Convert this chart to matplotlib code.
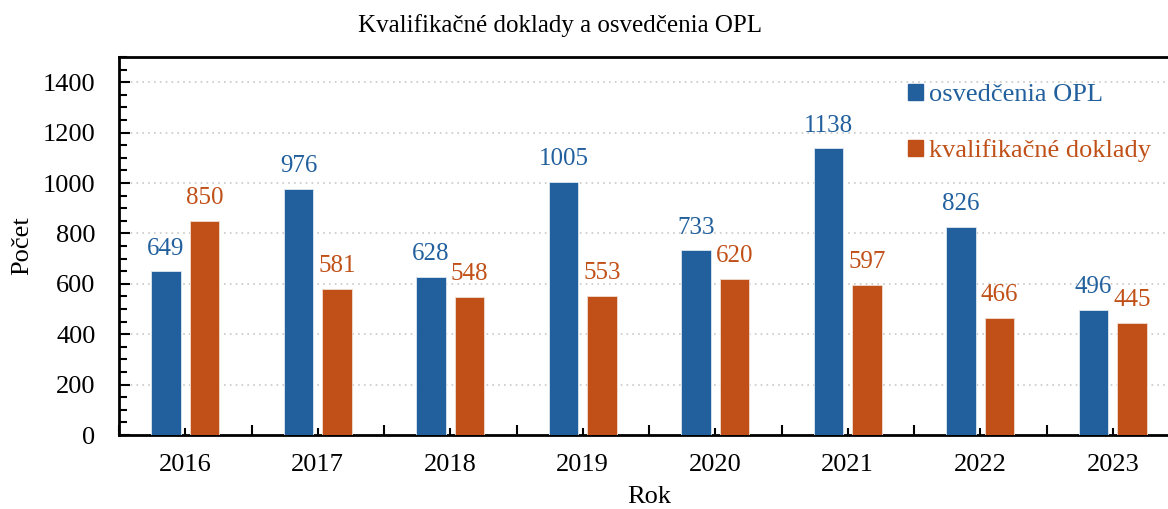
import numpy as np
import matplotlib.pyplot as plt
from matplotlib.patches import Patch
from matplotlib.ticker import MultipleLocator, FixedLocator

# Data
years = ["2016", "2017", "2018", "2019", "2020", "2021", "2022", "2023"]
osvedcenia = [649, 976, 628, 1005, 733, 1138, 826, 496]
kvalifikacne = [850, 581, 548, 553, 620, 597, 466, 445]

blue = "#21609d"
orange = "#c05018"

plt.rcParams['font.family'] = ['Liberation Serif', 'DejaVu Serif']

fig = plt.figure(figsize=(11.68, 5.09), dpi=100)
# axes right edge runs a bit past the image, like the reference
ax = fig.add_axes([119 / 1168, 1 - 435 / 509, 1060 / 1168, 378 / 509])

x = np.arange(len(years))
w = 0.22
off = 0.145
b1 = ax.bar(x - off, osvedcenia, w, color=blue, edgecolor="#dde6f0", linewidth=0.6, zorder=3)
b2 = ax.bar(x + off, kvalifikacne, w, color=orange, edgecolor="#f2ddd0", linewidth=0.6, zorder=3)

# value labels above the bars
for xi, v in zip(x - off, osvedcenia):
    ax.annotate(str(v), (xi, v), xytext=(0, 12), textcoords="offset points",
                ha="center", va="baseline", color=blue, fontsize=18)
for xi, v in zip(x + off, kvalifikacne):
    ax.annotate(str(v), (xi, v), xytext=(0, 12), textcoords="offset points",
                ha="center", va="baseline", color=orange, fontsize=18)

ax.set_xlim(-0.5, len(years) - 0.5)
ax.set_ylim(0, 1500)

ax.yaxis.set_major_locator(FixedLocator(np.arange(0, 1401, 200)))
ax.yaxis.set_minor_locator(MultipleLocator(50))
ax.set_xticks(x)
ax.set_xticklabels(years)
ax.xaxis.set_minor_locator(FixedLocator(np.arange(-0.5, len(years), 1.0)))

ax.tick_params(axis="y", which="major", direction="in", length=8, width=1.5,
               labelsize=19, pad=17)
ax.tick_params(axis="y", which="minor", direction="in", length=6, width=1.5)
ax.tick_params(axis="x", which="major", direction="in", length=5, width=1.5,
               labelsize=19, pad=14)
ax.tick_params(axis="x", which="minor", direction="in", length=7, width=1.5)

for s in ax.spines.values():
    s.set_linewidth(2)

ax.grid(axis="y", which="major", linestyle=(0, (1, 2.5)), color="#c8c8c8",
        linewidth=1.2, zorder=0)
ax.set_axisbelow(True)

ax.set_ylabel("Počet", fontsize=19, labelpad=7)
ax.set_xlabel("Rok", fontsize=19, labelpad=7)
fig.text(560 / 1168, 1 - 26 / 509, "Kvalifikačné doklady a osvedčenia OPL",
         ha="center", va="center", fontsize=18)

handles = [Patch(color=blue), Patch(color=orange)]
ax.legend(handles, ["osvedčenia OPL", "kvalifikačné doklady"],
          loc="upper left", bbox_to_anchor=(908 / 1168, 1 - 84 / 509),
          bbox_transform=fig.transFigure, frameon=False, fontsize=19,
          handlelength=0.55, handleheight=0.55, handletextpad=0.25,
          labelspacing=1.25, borderpad=0, borderaxespad=0,
          labelcolor=[blue, orange])

fig.savefig("out.png", dpi=100)
